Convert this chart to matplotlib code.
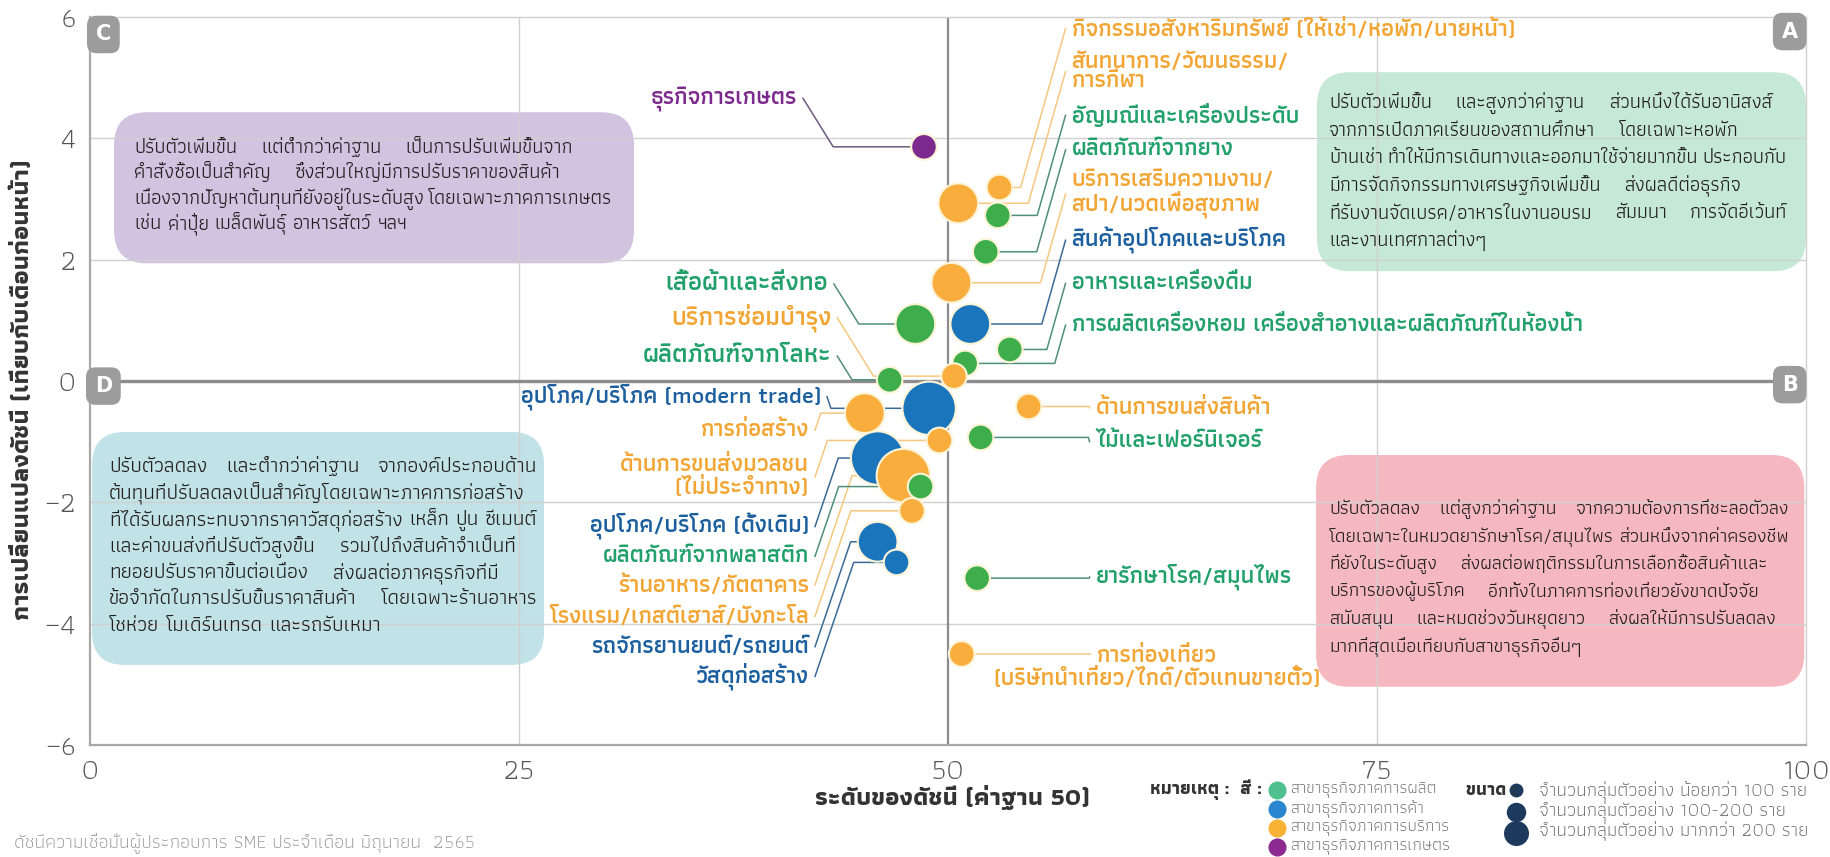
import matplotlib
matplotlib.use("Agg")
import matplotlib.pyplot as plt
from matplotlib.patches import FancyBboxPatch

plt.rcParams['font.family'] = ['Athiti', 'DejaVu Sans']

# ---- data ----
names = [
    'ธุรกิจการเกษตร',
    'กิจกรรมอสังหาริมทรัพย์ (ให้เช่า/หอพัก/นายหน้า)',
    'สันทนาการ/วัฒนธรรม/\nการกีฬา',
    'อัญมณีและเครื่องประดับ',
    'ผลิตภัณฑ์จากยาง',
    'บริการเสริมความงาม/\nสปา/นวดเพื่อสุขภาพ',
    'สินค้าอุปโภคและบริโภค',
    'เสื้อผ้าและสิ่งทอ',
    'อาหารและเครื่องดื่ม',
    'การผลิตเครื่องหอม เครื่องสำอางและผลิตภัณฑ์ในห้องน้ำ',
    'บริการซ่อมบำรุง',
    'ผลิตภัณฑ์จากโลหะ',
    'อุปโภค/บริโภค (modern trade)',
    'การก่อสร้าง',
    'ด้านการขนส่งสินค้า',
    'ไม้และเฟอร์นิเจอร์',
    'ด้านการขนส่งมวลชน\n(ไม่ประจำทาง)',
    'อุปโภค/บริโภค (ดั้งเดิม)',
    'ร้านอาหาร/ภัตตาคาร',
    'ผลิตภัณฑ์จากพลาสติก',
    'โรงแรม/เกสต์เฮาส์/บังกะโล',
    'รถจักรยานยนต์/รถยนต์',
    'วัสดุก่อสร้าง',
    'ยารักษาโรค/สมุนไพร',
    'การท่องเที่ยว\n(บริษัทนำเที่ยว/ไกด์/ตัวแทนขายตั๋ว)',
]
index_level = [48.6, 53.0, 50.6, 52.9, 52.2, 50.2, 51.3, 48.1, 53.6, 51.0, 50.35, 46.6, 48.9,
               45.15, 54.7, 51.9, 49.5, 45.9, 47.4, 48.4, 47.9, 45.9, 47.0, 51.7, 50.8]
index_change = [3.86, 3.19, 2.93, 2.73, 2.13, 1.62, 0.94, 0.94, 0.52, 0.29, 0.08, 0.02, -0.45,
                -0.53, -0.42, -0.93, -0.98, -1.27, -1.56, -1.74, -2.14, -2.65, -2.99, -3.25, -4.50]
sector = ['agri', 'service', 'service', 'mfg', 'mfg', 'service', 'trade', 'mfg', 'mfg', 'mfg',
          'service', 'mfg', 'trade', 'service', 'service', 'mfg', 'service', 'trade', 'service',
          'mfg', 'service', 'trade', 'trade', 'mfg', 'service']
# 1: < 100 firms, 2: 100-200, 3: > 200
sample_class = [1, 1, 2, 1, 1, 2, 2, 2, 1, 1, 1, 1, 3, 2, 1, 1, 1, 3, 3, 1, 1, 2, 1, 1, 1]

x_ticks = [0, 25, 50, 75, 100]
y_ticks = [-6, -4, -2, 0, 2, 4, 6]

note_c = ['ปรับตัวเพิ่มขึ้น แต่ต่ำกว่าค่าฐาน เป็นการปรับเพิ่มขึ้นจาก',
          'คำสั่งซื้อเป็นสำคัญ ซึ่งส่วนใหญ่มีการปรับราคาของสินค้า',
          'เนื่องจากปัญหาต้นทุนที่ยังอยู่ในระดับสูง โดยเฉพาะภาคการเกษตร',
          'เช่น ค่าปุ๋ย เมล็ดพันธุ์ อาหารสัตว์ ฯลฯ']
note_a = ['ปรับตัวเพิ่มขึ้น และสูงกว่าค่าฐาน ส่วนหนึ่งได้รับอานิสงส์',
          'จากการเปิดภาคเรียนของสถานศึกษา โดยเฉพาะหอพัก',
          'บ้านเช่า ทำให้มีการเดินทางและออกมาใช้จ่ายมากขึ้น ประกอบกับ',
          'มีการจัดกิจกรรมทางเศรษฐกิจเพิ่มขึ้น ส่งผลดีต่อธุรกิจ',
          'ที่รับงานจัดเบรค/อาหารในงานอบรม สัมมนา การจัดอีเว้นท์',
          'และงานเทศกาลต่างๆ']
note_d = ['ปรับตัวลดลง และต่ำกว่าค่าฐาน จากองค์ประกอบด้าน',
          'ต้นทุนที่ปรับลดลงเป็นสำคัญโดยเฉพาะภาคการก่อสร้าง',
          'ที่ได้รับผลกระทบจากราคาวัสดุก่อสร้าง เหล็ก ปูน ซีเมนต์',
          'และค่าขนส่งที่ปรับตัวสูงขึ้น รวมไปถึงสินค้าจำเป็นที่',
          'ทยอยปรับราคาขึ้นต่อเนื่อง ส่งผลต่อภาคธุรกิจที่มี',
          'ข้อจำกัดในการปรับขึ้นราคาสินค้า โดยเฉพาะร้านอาหาร',
          'โชห่วย โมเดิร์นเทรด และรถรับเหมา']
note_b = ['ปรับตัวลดลง แต่สูงกว่าค่าฐาน จากความต้องการที่ชะลอตัวลง',
          'โดยเฉพาะในหมวดยารักษาโรค/สมุนไพร ส่วนหนึ่งจากค่าครองชีพ',
          'ที่ยังในระดับสูง ส่งผลต่อพฤติกรรมในการเลือกซื้อสินค้าและ',
          'บริการของผู้บริโภค อีกทั้งในภาคการท่องเที่ยวยังขาดปัจจัย',
          'สนับสนุน และหมดช่วงวันหยุดยาว ส่งผลให้มีการปรับลดลง',
          'มากที่สุดเมื่อเทียบกับสาขาธุรกิจอื่นๆ']

# ---- styles / layout ----
bubble_color = {'mfg': '#3dae4b', 'trade': '#1a75bc', 'service': '#f8ad3c', 'agri': '#7c2a8d'}
label_color = {'mfg': '#21a06c', 'trade': '#1c5f9f', 'service': '#f2a533', 'agri': '#7c2a8d'}
line_color = {'mfg': '#4f8f7a', 'trade': '#3a6a98', 'service': '#f5c77f', 'agri': '#6f5a80'}
marker_area = {1: 340, 2: 820, 3: 1480}

# label anchor (x, y, side, font size)
label_pos = [
    (41.2, 4.66, 'right', 17), (57.2, 5.81, 'left', 17), (57.2, 5.10, 'left', 17),
    (57.2, 4.38, 'left', 17), (57.2, 3.81, 'left', 17), (57.2, 3.08, 'left', 17),
    (57.2, 2.32, 'left', 17), (43.0, 1.60, 'right', 18.5), (57.2, 1.61, 'left', 17),
    (57.2, 0.92, 'left', 17), (43.2, 1.04, 'right', 18.5), (43.2, 0.41, 'right', 18.5),
    (42.6, -0.26, 'right', 17), (41.9, -0.81, 'right', 17), (58.6, -0.44, 'left', 17),
    (58.6, -1.00, 'left', 17), (41.9, -1.58, 'right', 17), (41.9, -2.40, 'right', 17),
    (41.9, -3.36, 'right', 17), (41.9, -2.89, 'right', 17), (41.9, -3.88, 'right', 17),
    (41.9, -4.38, 'right', 17), (41.9, -4.87, 'right', 17), (58.6, -3.23, 'left', 17),
    (62.2, -4.72, 'center', 17),
]

# (box x0, y0, x1, y1, colour, text x, text centre y, text width px, font size, line step px, lines)
boxes = [
    (1.40, 1.94, 31.7, 4.43, '#d2c3e0', 2.59, 3.22, 478, 16, 25.5, note_c),
    (71.5, 1.81, 100.0, 5.09, '#c6e9d7', 72.2, 3.45, 458, 15.5, 27.5, note_a),
    (0.12, -4.68, 26.46, -0.84, '#c1e3e7', 1.11, -2.72, 428, 15, 26.4, note_d),
    (71.45, -5.04, 99.9, -1.22, '#f6b8c0', 72.2, -3.24, 460, 15.5, 27.5, note_b),
]

W, H = 1831, 857
fig = plt.figure(figsize=(W / 100, H / 100), dpi=100)
ax = fig.add_axes([90 / W, 1 - 745 / H, 1716 / W, 728 / H])
ax.set_xlim(0, 100)
ax.set_ylim(-6, 6)
ax.set_xticks(x_ticks)
ax.set_yticks(y_ticks)
ax.tick_params(length=0, labelsize=21, labelcolor='#555555', pad=10)
for lab in ax.get_xticklabels() + ax.get_yticklabels():
    lab.set_fontweight(300)
for s in ['top', 'right']:
    ax.spines[s].set_color('#d0d0d0')
    ax.spines[s].set_linewidth(1)
for s in ['left', 'bottom']:
    ax.spines[s].set_color('#a8a8a8')
    ax.spines[s].set_linewidth(1.6)

for v in [25, 75]:
    ax.axvline(v, color='#d0d0d0', lw=1, zorder=1.5)
for v in [-4, -2, 2, 4]:
    ax.axhline(v, color='#d0d0d0', lw=1, zorder=1.5)
ax.axvline(50, color='#8c8c8c', lw=1.6, zorder=1.6)
ax.axhline(0, color='#8c8c8c', lw=2.4, zorder=1.6)

px_x = 1716 / 100   # pixels per x unit
px_y = 728 / 12     # pixels per y unit
renderer = fig.canvas.get_renderer()


def px_width(s, fs):
    t = fig.text(0, 0, s, fontsize=fs)
    w = t.get_window_extent(renderer).width
    t.remove()
    return w


# rounded note boxes with (mostly) justified text
for x0, y0, x1, y1, fc, tx, tyc, width_px, fs, step, lines in boxes:
    ax.add_patch(FancyBboxPatch((x0, y0), x1 - x0, y1 - y0,
                                boxstyle='round,pad=0,rounding_size=1.9',
                                mutation_aspect=px_x / px_y, fc=fc, ec='none', zorder=1))
    widest = max(px_width(l, fs) for l in lines)
    if widest > width_px:
        fs = fs * width_px / widest
    space = px_width('ก ก', fs) - 2 * px_width('ก', fs)
    n = len(lines)
    for k, line in enumerate(lines):
        yc = tyc + ((n - 1) / 2 - k) * step / px_y
        yb = yc - 0.27 * fs * 100 / 72 / px_y
        words = line.split()
        widths = [px_width(w, fs) for w in words]
        if k == n - 1 or len(words) == 1:
            gap = space
        else:
            gap = min((width_px - sum(widths)) / (len(words) - 1), 4 * space)
        x = tx
        for w, wd in zip(words, widths):
            ax.text(x, yb, w, ha='left', va='baseline', fontsize=fs, color='#231f20', zorder=2)
            x += (wd + gap) / px_x

# quadrant tags
for tx, ty, t in [(0.0078, 0.976, 'C'), (0.9905, 0.98, 'A'), (0.0078, 0.493, 'D'), (0.9905, 0.495, 'B')]:
    ax.text(tx, ty, t, transform=ax.transAxes, ha='center', va='center', color='white',
            fontsize=15, fontweight='bold', fontfamily='DejaVu Sans', zorder=5,
            bbox=dict(boxstyle='round,pad=0.42,rounding_size=0.45', fc='#9c9c9c', ec='none'))

# leader lines + labels
for i, name in enumerate(names):
    bx, by = index_level[i], index_change[i]
    lx, ly, side, lfs = label_pos[i]
    sec = sector[i]
    if side == 'left':
        endx = lx - 0.35
        ex = max(bx, endx - 1.0 * abs(ly - by))
        pts = [(bx, by), (ex, by), (endx, ly)]
    elif side == 'right':
        endx = lx + 0.35
        k = 2.2 if ly > 0 else 1.2
        ex = min(bx, endx + k * abs(ly - by))
        pts = [(bx, by), (ex, by), (endx, ly)]
    else:
        pts = [(bx, by), (58.3, by)]
    ax.plot([p[0] for p in pts], [p[1] for p in pts], color=line_color[sec], lw=1.1, zorder=3)
    ax.text(lx, ly, name, ha=side, va='center', multialignment=side if side != 'center' else 'center',
            fontsize=lfs, fontweight=600, color=label_color[sec], linespacing=1.05, zorder=4)

# bubbles, bigger first so small ones sit on top
order = sorted(range(len(names)), key=lambda j: -sample_class[j])
ax.scatter([index_level[j] for j in order], [index_change[j] for j in order],
           s=[marker_area[sample_class[j]] for j in order],
           c=[bubble_color[sector[j]] for j in order],
           edgecolors='#fdf4d8', linewidths=1.5, zorder=6)

fig.text(952 / W, 1 - 797 / H, 'ระดับของดัชนี (ค่าฐาน 50)', ha='center', va='center',
         fontsize=18, fontweight='bold', color='#333333')
fig.text(23 / W, 1 - 390 / H, 'การเปลี่ยนแปลงดัชนี (เทียบกับเดือนก่อนหน้า)', ha='center', va='center',
         rotation=90, fontsize=18, fontweight='bold', color='#333333')
fig.text(14 / W, 1 - 843 / H, 'ดัชนีความเชื่อมั่นผู้ประกอบการ SME ประจำเดือน มิถุนายน  2565',
         ha='left', va='center', fontsize=14, color='#9a9a9a', fontweight=300)

# legend in pixel coordinates
lg = fig.add_axes([0, 0, 1, 1], facecolor='none')
lg.set_xlim(0, W)
lg.set_ylim(H, 0)
lg.axis('off')
legend_colors = ['#4fc08f', '#2a86cf', '#f9b233', '#8d2a91']
legend_sector_text = ['สาขาธุรกิจภาคการผลิต', 'สาขาธุรกิจภาคการค้า', 'สาขาธุรกิจภาคการบริการ', 'สาขาธุรกิจภาคการเกษตร']
legend_size_text = ['จำนวนกลุ่มตัวอย่าง น้อยกว่า 100 ราย', 'จำนวนกลุ่มตัวอย่าง 100-200 ราย',
                    'จำนวนกลุ่มตัวอย่าง มากกว่า 200 ราย']
lg.text(1150, 790, 'หมายเหตุ :  สี :', ha='left', va='center', fontsize=13, fontweight='bold', color='#333333')
for k, (c, t) in enumerate(zip(legend_colors, legend_sector_text)):
    yy = 790 + k * 19
    lg.plot(1277, yy, 'o', ms=13, color=c, mec='none')
    lg.text(1290, yy, t, ha='left', va='center', fontsize=12.5, color='#6a6a6a', fontweight=300)
lg.text(1466, 790, 'ขนาด :', ha='left', va='center', fontsize=13, fontweight='bold', color='#333333')
for k, (ms, t) in enumerate(zip([10, 14, 18], legend_size_text)):
    yy = 790 + k * 20
    lg.plot(1516, yy + k * 1.5, 'o', ms=ms, color='#1d3a5c', mec='none')
    lg.text(1539, yy, t, ha='left', va='center', fontsize=13.8, color='#6a6a6a', fontweight=300)

fig.savefig('out.png', dpi=100)
